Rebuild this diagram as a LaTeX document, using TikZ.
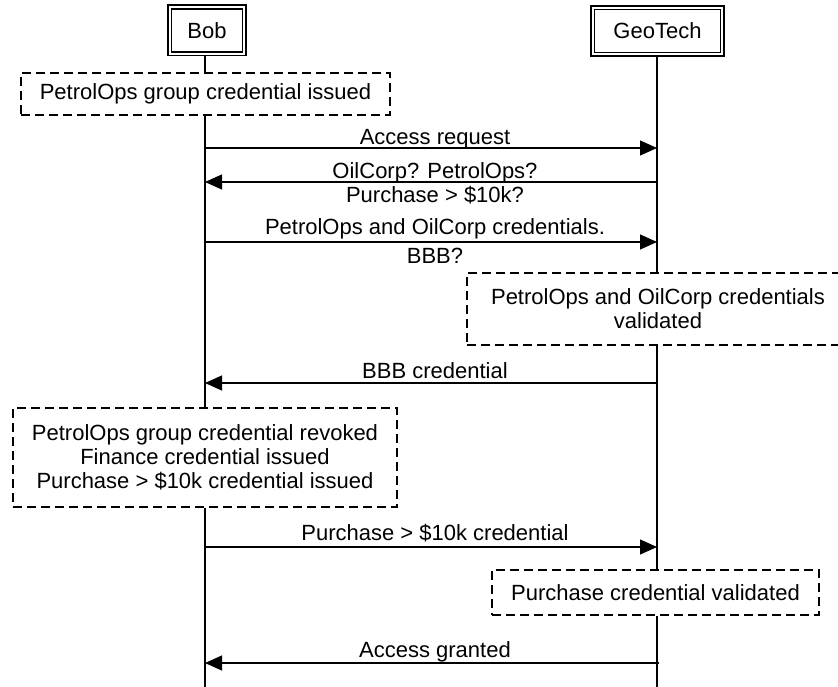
\documentclass[tikz,border=0pt]{standalone}
\usepackage{fontspec}
\setmainfont{Liberation Sans}
\usetikzlibrary{arrows.meta}

\begin{document}
\begin{tikzpicture}[x=1pt, y=-1pt,
  every node/.style={font=\fontsize{22}{24}\selectfont, inner sep=0pt},
  actor/.style={draw, double, double distance=2.2pt, line width=1.6pt,
    minimum height=46.6pt},
  note/.style={draw, dash pattern=on 9pt off 5pt, line width=1.1pt,
    align=center},
  life/.style={line width=1.1pt},
  msg/.style={line width=1.1pt, -{Triangle[length=17pt, width=15pt]}},
  lbl/.style={anchor=base}
]
\useasboundingbox (0,0) rectangle (838,687);
\clip (0,0) rectangle (838,687);

% participants
\node[actor, minimum width=74.6pt] (bob) at (207,30.5) {Bob};
\node[actor, minimum width=129.6pt] (geo) at (657.5,31) {GeoTech};

% state notes on the lifelines
\node[note, minimum width=369pt, minimum height=42pt] (n1) at (205.5,94)
  {PetrolOps group credential issued};
\node[note, minimum width=382pt, minimum height=72pt] (n2) at (658,309)
  {PetrolOps and OilCorp credentials\\validated};
\node[note, minimum width=384pt, minimum height=99pt] (n3) at (205,457.5)
  {PetrolOps group credential revoked\\Finance credential issued\\Purchase > \$10k credential issued};
\node[note, minimum width=327pt, minimum height=45pt] (n4) at (655.5,592.5)
  {Purchase credential validated};

% lifeline ends
\coordinate (bobend) at (205,687);
\coordinate (geoend) at (657,687);

% lifelines, broken by the notes
\draw[life] (bob.south -| bobend) -- (n1.north -| bobend);
\draw[life] (n1.south -| bobend) -- (n3.north -| bobend);
\draw[life] (n3.south -| bobend) -- (bobend);
\draw[life] (geo.south -| geoend) -- (n2.north -| geoend);
\draw[life] (n2.south -| geoend) -- (n4.north -| geoend);
\draw[life] (n4.south -| geoend) -- (geoend);

% message end points
\coordinate (b1) at (205,148); \coordinate (g1) at (657,148);
\coordinate (b2) at (205,182); \coordinate (g2) at (657,182);
\coordinate (b3) at (205,242); \coordinate (g3) at (657,242);
\coordinate (b4) at (205,383); \coordinate (g4) at (657,383);
\coordinate (b5) at (205,547); \coordinate (g5) at (657,547);
\coordinate (b6) at (205,663); \coordinate (g6) at (659,663);

% messages
\draw[msg] (b1) -- (g1);
\node[lbl] (t1) at (435,145) {Access request};

\draw[msg] (g2) -- (b2);
\node[lbl] (t2a) at (435,179) {OilCorp? PetrolOps?};
\node[lbl] (t2b) at (435,203) {Purchase > \$10k?};

\draw[msg] (b3) -- (g3);
\node[lbl] (t3a) at (435,234) {PetrolOps and OilCorp credentials.};
\node[lbl] (t3b) at (435,263) {BBB?};

\draw[msg] (g4) -- (b4);
\node[lbl] (t4) at (435,378) {BBB credential};

\draw[msg] (b5) -- (g5);
\node[lbl] (t5) at (435,540) {Purchase > \$10k credential};

\draw[msg] (g6) -- (b6);
\node[lbl] (t6) at (435,657) {Access granted};
\end{tikzpicture}
\end{document}
